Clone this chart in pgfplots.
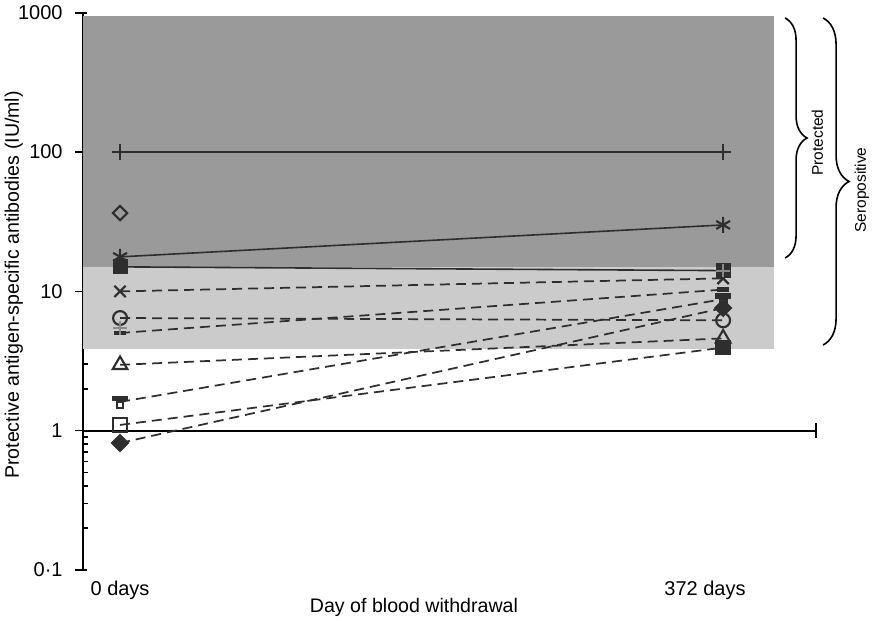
\documentclass[border=0pt]{standalone}
\usepackage{fontspec}
\setmainfont{Liberation Sans}
\usepackage{pgfplots}
\pgfplotsset{compat=1.18}
\usetikzlibrary{decorations.pathreplacing}
\definecolor{darkband}{HTML}{9A9A9A}
\definecolor{lightband}{HTML}{CBCBCB}
\definecolor{ink}{HTML}{2E2E2E}
\definecolor{plusgray}{HTML}{8A8A8A}
\pgfdeclareplotmark{barsq}{%
  \pgfpathrectangle{\pgfpoint{-0.5\pgfplotmarksize}{-0.95\pgfplotmarksize}}{\pgfpoint{1.0\pgfplotmarksize}{1.0\pgfplotmarksize}}\pgfusepathqstroke
  \pgfpathrectangle{\pgfpoint{-1.05\pgfplotmarksize}{0.25\pgfplotmarksize}}{\pgfpoint{2.1\pgfplotmarksize}{0.45\pgfplotmarksize}}\pgfusepathqfillstroke
}
\pgfplotsset{
  every tick label/.append style={font=\fontsize{15}{17}\selectfont},
  every axis label/.append style={font=\fontsize{14.7}{17}\selectfont},
}
\begin{document}
\begin{tikzpicture}
\path[use as bounding box] (-62.5pt,-38.25pt) rectangle (591.5pt,427.5pt);
\begin{axis}[
  at={(0,0)}, anchor=south west,
  scale only axis, width=549.5pt, height=417.9pt,
  xmin=-0.0609, xmax=1.154,
  ymode=log, ymin=0.1, ymax=1000,
  clip=false,
  axis x line*=bottom, axis y line*=left,
  x axis line style={draw=none},
  y axis line style={line width=1.4pt, -, black},
  xtick={0,0.97}, xticklabels={0 days,372 days},
  xtick style={draw=none},
  xticklabel style={yshift=-5pt},
  ytick={0.1,1,10,100,1000}, yticklabels={0·1,1,10,100,1000},
  yticklabel style={xshift=-12pt},
  minor ytick={0.2,0.3,0.4,0.5,0.6,0.7,0.8,0.9,2,3,4,5,6,7,8,9,20,30,40,50,60,70,80,90,200,300,400,500,600,700,800,900},
  tick align=inside, major tick length=3pt, minor tick length=3.5pt,
  ytick style={line width=1.2pt, black},
  ylabel={Protective antigen-specific antibodies (IU/ml)},
  ylabel style={at={(axis description cs:-0.095,0.5115)}, anchor=center},
  xlabel={Day of blood withdrawal},
  xlabel style={at={(axis description cs:0.4513,-0.068)}, anchor=center},
]
% bands
\addplot[fill=darkband, draw=none] coordinates {(-0.0609,15) (1.0846,15) (1.0846,950) (-0.0609,950)} -- cycle;
\addplot[fill=lightband, draw=none] coordinates {(-0.0609,3.86) (1.0846,3.86) (1.0846,15) (-0.0609,15)} -- cycle;
% outward major ticks
\addplot[black, only marks, mark=-, mark size=3pt, mark options={xshift=-3pt, line width=1.2pt}] coordinates {(-0.0609,0.1) (-0.0609,1) (-0.0609,10) (-0.0609,100) (-0.0609,1000)};
% reference line at 1
\addplot[black, line width=1.4pt] coordinates {(-0.0609,1) (1.154,1)};
\addplot[black, only marks, mark=|, mark size=5.5pt, mark options={line width=1.4pt}] coordinates {(1.154,1)};
% series
\addplot[ink, line width=1.2pt, mark=+, mark size=6pt, mark options={line width=1.4pt}] coordinates {(0,100) (1,100)};
\addplot[ink, only marks, mark=square, mark size=3.8pt, mark options={rotate=45, line width=1.6pt}] coordinates {(0,36.5)};
\addplot[ink, line width=1.2pt, mark=asterisk, mark size=6pt, mark options={line width=1.6pt}] coordinates {(0,17.7) (1,30)};
\addplot[ink, line width=1.3pt, dash pattern=on 7.5pt off 4.5pt, mark=x, mark size=6pt, mark options={solid, line width=1.6pt}] coordinates {(0,10) (1,12.4)};
\addplot[ink, line width=1.2pt, mark=square*, mark size=5pt, mark options={solid}] coordinates {(0,15) (1,14.1)};
\addplot[ink, line width=1.3pt, dash pattern=on 7.5pt off 4.5pt, mark=-, mark size=4.5pt, mark options={solid, line width=3.5pt}] coordinates {(0,5.03) (1,10.3)};
\addplot[ink, line width=1.3pt, dash pattern=on 7.5pt off 4.5pt, mark=o, mark size=5.2pt, mark options={solid, line width=1.6pt}] coordinates {(0,6.44) (1,6.2)};
\addplot[ink, line width=1.3pt, dash pattern=on 7.5pt off 4.5pt, mark=barsq, mark size=5pt, mark options={solid, line width=1.6pt, fill=ink}] coordinates {(0,1.61) (1,8.8)};
\addplot[ink, line width=1.3pt, dash pattern=on 7.5pt off 4.5pt, mark=square*, mark size=4.3pt, mark options={solid, rotate=45}] coordinates {(0,0.816) (1,7.6)};
\addplot[ink, line width=1.3pt, dash pattern=on 7.5pt off 4.5pt, mark=triangle, mark size=6.3pt, mark options={solid, line width=1.6pt}] coordinates {(0,2.97) (1,4.6)};
\addplot[ink, line width=1.3pt, dash pattern=on 7.5pt off 4.5pt, mark=square, mark size=5pt, mark options={solid, line width=1.6pt}] coordinates {(0,1.10) (1,3.95)};
\addplot[ink, only marks, mark=square*, mark size=5pt] coordinates {(1,3.95)};
\addplot[plusgray, only marks, mark=+, mark size=5pt, mark options={line width=1.4pt}] coordinates {(0,5.46) (1,14.1)};
\end{axis}
% braces
\draw[line width=1.2pt, decorate, decoration={brace, amplitude=16.5pt}] (526.3pt,414pt) -- (526.3pt,234pt);
\node[rotate=90, font=\fontsize{11.6}{14}\selectfont] at (550.6pt,320.6pt) {Protected};
\draw[line width=1.2pt, decorate, decoration={brace, amplitude=19.5pt}] (554.8pt,414pt) -- (554.8pt,168.75pt);
\node[rotate=90, font=\fontsize{11.6}{14}\selectfont] at (583.9pt,285pt) {Seropositive};
\end{tikzpicture}
\end{document}
